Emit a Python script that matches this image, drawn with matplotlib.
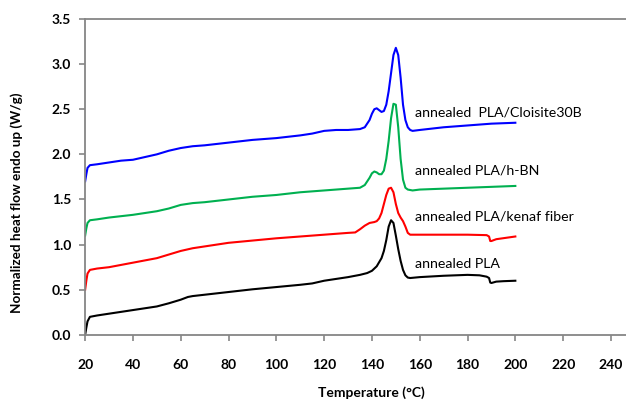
import matplotlib
matplotlib.use("Agg")
import matplotlib.pyplot as plt

plt.rcParams['font.family'] = ['Lato', 'DejaVu Sans']

# annealed PLA (black)
t_pla = [20, 20.5, 21, 22, 25, 30, 35, 40, 45, 50, 55, 60, 63, 65, 70, 80, 90, 100,
         110, 115, 120, 125, 130, 135, 138, 140, 142, 144, 145, 146, 147, 148, 149,
         150, 151, 152, 153, 154, 155, 156, 160, 170, 180, 185, 188, 189, 189.5,
         190, 192, 195, 200]
y_pla = [0.0, 0.08, 0.15, 0.2, 0.215, 0.235, 0.255, 0.275, 0.295, 0.315, 0.35, 0.39,
         0.42, 0.43, 0.445, 0.475, 0.505, 0.53, 0.555, 0.57, 0.6, 0.62, 0.64, 0.665,
         0.685, 0.71, 0.76, 0.85, 0.93, 1.05, 1.2, 1.27, 1.24, 1.1, 0.95, 0.82, 0.72,
         0.66, 0.635, 0.63, 0.64, 0.655, 0.665, 0.66, 0.645, 0.63, 0.58, 0.575, 0.59,
         0.595, 0.6]

# annealed PLA/kenaf fiber (red)
t_kenaf = [20, 20.5, 21, 22, 25, 30, 40, 50, 55, 60, 65, 70, 80, 90, 100, 110, 120,
           130, 133, 135, 137, 139, 141, 142, 143, 144, 145, 146, 147, 148, 149, 150,
           151, 152, 153, 154, 155, 156, 158, 170, 180, 188, 189, 189.5, 190, 192, 200]
y_kenaf = [0.5, 0.6, 0.68, 0.72, 0.735, 0.75, 0.8, 0.85, 0.89, 0.93, 0.96, 0.98, 1.02,
           1.045, 1.07, 1.09, 1.11, 1.13, 1.135, 1.17, 1.21, 1.24, 1.25, 1.26, 1.29,
           1.35, 1.45, 1.55, 1.62, 1.63, 1.58, 1.45, 1.35, 1.3, 1.26, 1.2, 1.13, 1.11,
           1.11, 1.11, 1.11, 1.105, 1.09, 1.04, 1.04, 1.06, 1.09]

# annealed PLA/h-BN (green)
t_hbn = [20, 20.5, 21, 22, 25, 30, 40, 50, 55, 60, 65, 70, 80, 90, 100, 110, 120, 130,
         135, 137, 139, 140, 141, 142, 143, 144, 145, 146, 147, 148, 149, 150, 151,
         152, 153, 154, 155, 157, 160, 170, 180, 190, 200]
y_hbn = [1.1, 1.18, 1.24, 1.27, 1.28, 1.3, 1.33, 1.37, 1.4, 1.44, 1.46, 1.47, 1.5,
         1.53, 1.55, 1.58, 1.6, 1.62, 1.63, 1.66, 1.74, 1.79, 1.81, 1.8, 1.78, 1.78,
         1.82, 1.95, 2.15, 2.4, 2.56, 2.55, 2.3, 1.95, 1.72, 1.63, 1.61, 1.6, 1.61,
         1.62, 1.63, 1.64, 1.65]

# annealed PLA/Cloisite30B (blue)
t_c30b = [20, 20.5, 21, 22, 25, 30, 35, 40, 45, 50, 55, 60, 65, 70, 80, 90, 100, 110,
          115, 120, 125, 130, 135, 137, 139, 140, 141, 142, 143, 144, 145, 146, 147,
          148, 149, 150, 151, 152, 153, 154, 155, 156, 157, 160, 170, 180, 190, 200]
y_c30b = [1.7, 1.78, 1.85, 1.88, 1.89, 1.91, 1.93, 1.94, 1.97, 2.0, 2.04, 2.07, 2.09,
          2.1, 2.13, 2.16, 2.18, 2.21, 2.23, 2.26, 2.27, 2.27, 2.28, 2.3, 2.38, 2.45,
          2.5, 2.51, 2.49, 2.47, 2.48, 2.55, 2.7, 2.9, 3.1, 3.18, 3.1, 2.85, 2.55,
          2.38, 2.3, 2.27, 2.26, 2.27, 2.3, 2.32, 2.34, 2.35]

labels = ['annealed PLA', 'annealed PLA/kenaf fiber', 'annealed PLA/h-BN',
          'annealed  PLA/Cloisite30B']
label_y = [0.78, 1.31, 1.82, 2.46]

fig = plt.figure(figsize=(6.26, 4.03), dpi=100)
ax = fig.add_axes([0.136, 0.169, 0.864, 0.784])

series = [(t_pla, y_pla, 'black'), (t_kenaf, y_kenaf, '#ff0000'),
          (t_hbn, y_hbn, '#00b050'), (t_c30b, y_c30b, '#0000ff')]
for (t, y, c), lab, ly in zip(series, labels, label_y):
    ax.plot(t, y, color=c, linewidth=1.5)
    ax.text(158, ly, lab, fontsize=10.2, va='center', ha='left')

ax.set_xlim(20, 246.3)
ax.set_ylim(0, 3.5)
ax.set_xticks(range(20, 241, 20))
ax.set_yticks([0, 0.5, 1.0, 1.5, 2.0, 2.5, 3.0, 3.5])
ax.set_yticklabels([f'{v:.1f}' for v in ax.get_yticks()])

for side in ['left', 'bottom', 'top']:
    ax.spines[side].set_color('#868686')
    ax.spines[side].set_linewidth(1.3)
ax.spines['right'].set_visible(False)
ax.tick_params(direction='out', length=4, width=1.2, color='#868686',
               labelsize=10)
ax.tick_params(axis='x', pad=13)
ax.tick_params(axis='y', pad=6)
for lbl in ax.get_xticklabels() + ax.get_yticklabels():
    lbl.set_fontweight('bold')

fig.text(0.53 * 0.864 + 0.136, 1 - 393 / 403, 'Temperature (°C)', fontsize=10,
         fontweight='bold', ha='center', va='center')
fig.text(17 / 626, 1 - 203 / 403, 'Normalized heat flow endo up (W/g)',
         fontsize=9.7, fontweight='bold', rotation=90, ha='center', va='center')

fig.savefig('out.png', dpi=100)
